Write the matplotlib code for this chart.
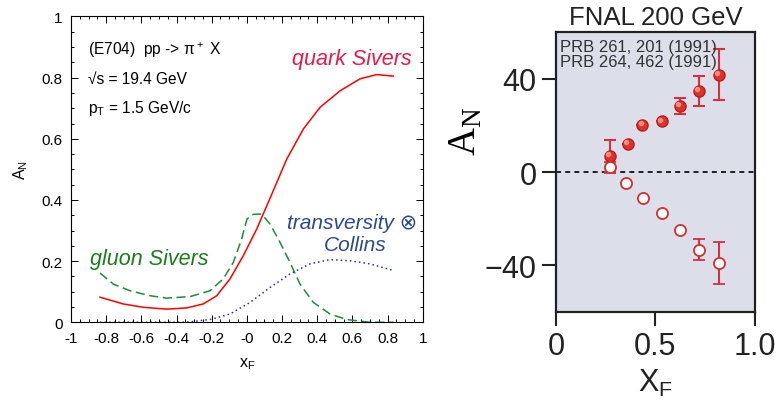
import numpy as np
import matplotlib
matplotlib.use("Agg")
import matplotlib.pyplot as plt
from matplotlib.ticker import MultipleLocator
from matplotlib.transforms import ScaledTranslation

plt.rcParams['font.family'] = ['Liberation Sans', 'DejaVu Sans']

# left panel: model curves (x_F, A_N)
quark_x = [-0.835, -0.703, -0.589, -0.456, -0.342, -0.248, -0.171, -0.096, -0.02,
           0.056, 0.132, 0.227, 0.321, 0.416, 0.53, 0.643, 0.738, 0.833]
quark_y = [0.082, 0.060, 0.049, 0.043, 0.047, 0.060, 0.087, 0.142, 0.218,
           0.305, 0.406, 0.534, 0.632, 0.703, 0.757, 0.796, 0.810, 0.805]

gluon_x = [-0.835, -0.759, -0.664, -0.551, -0.456, -0.323, -0.21, -0.134, -0.077, -0.03,
           0.001, 0.037, 0.084, 0.132, 0.188, 0.245, 0.302, 0.378, 0.473, 0.568, 0.70, 0.833]
gluon_y = [0.161, 0.125, 0.103, 0.087, 0.079, 0.084, 0.103, 0.142, 0.196, 0.272,
           0.338, 0.353, 0.354, 0.321, 0.262, 0.196, 0.125, 0.065, 0.027, 0.009, 0.0, 0.0]

trans_x = [-0.835, -0.5, -0.35, -0.3, -0.2, -0.096, 0.018, 0.132, 0.245, 0.359,
           0.473, 0.587, 0.70, 0.824]
trans_y = [0.0, 0.0, 0.0, 0.003, 0.010, 0.027, 0.065, 0.114, 0.158, 0.191,
           0.205, 0.201, 0.191, 0.171]

# right panel: FNAL E704 data (x_F, A_N in %)
pip_x = [0.27, 0.36, 0.434, 0.531, 0.624, 0.718, 0.82]
pip_y = [6.8, 12.2, 20.2, 21.7, 28.4, 34.8, 41.7]
pip_err = [7.0, 0, 0, 0, 3.5, 6.5, 11.0]

pim_x = [0.27, 0.35, 0.436, 0.535, 0.624, 0.72, 0.82]
pim_y = [2.0, -4.9, -11.3, -17.5, -24.9, -33.4, -38.8]
pim_err = [2.5, 0, 0, 0, 0, 4.5, 9.0]

fig = plt.figure(figsize=(7.8, 4.02), dpi=100)

# Left panel ###########################################################
ax = fig.add_axes([0.091, 0.1958, 0.451, 0.7607])
ax.plot(quark_x, quark_y, color='#ff0000', lw=1.1)
ax.plot(gluon_x, gluon_y, color='#1e8c3a', lw=1.1, dashes=(6, 3))
ax.plot(trans_x, trans_y, color='#2a2aa8', lw=1.1, dashes=(1, 2))
ax.set_xlim(-1, 1)
ax.set_ylim(0, 1)
xt = np.arange(-1, 1.01, 0.2)
ax.set_xticks(xt)
ax.set_xticklabels(['%g' % round(v, 1) for v in xt])
yt = np.arange(0, 1.01, 0.2)
ax.set_yticks(yt)
ax.set_yticklabels(['%g' % round(v, 1) for v in yt])
ax.xaxis.set_minor_locator(MultipleLocator(0.05))
ax.yaxis.set_minor_locator(MultipleLocator(0.05))
ax.tick_params(which='both', direction='in', top=True, right=True, labelsize=11, width=0.7)
ax.tick_params(which='major', length=5, pad=6)
ax.tick_params(which='minor', length=2.5)
for s in ax.spines.values():
    s.set_linewidth(0.8)
ax.set_xlabel('x$_\\mathregular{F}$', fontsize=11.5, labelpad=8)
ax.set_ylabel('A$_\\mathregular{N}$', fontsize=11.5, labelpad=8)

ax.text(-0.903, 0.894, '(E704)  pp -> $\\mathregular{\\pi^+}$ X', fontsize=11.2, va='center')
ax.text(-0.903, 0.796, '\u221as = 19.4 GeV', fontsize=11.2, va='center')
ax.text(-0.903, 0.704, 'p$_\\mathregular{T}$ = 1.5 GeV/c', fontsize=11.2, va='center')
ax.text(0.938, 0.861, 'quark Sivers', color='#e31c4b', fontsize=15.5, style='italic',
        ha='right', va='center')
ax.text(-0.892, 0.207, 'gluon Sivers', color='#1a7d1a', fontsize=15.5, style='italic',
        ha='left', va='center')
ax.text(0.966, 0.327, 'transversity \u2297', color='#2b4a8c', fontsize=15, style='italic',
        ha='right', va='center')
ax.text(0.616, 0.254, 'Collins', color='#2b4a8c', fontsize=15, style='italic',
        ha='center', va='center')

# Right panel ##########################################################
bx = fig.add_axes([0.7128, 0.2214, 0.255, 0.6965])
bx.set_facecolor('#dcdfea')
bx.axhline(0, color='black', lw=1.2, dashes=(3, 2.5), zorder=1)
bx.errorbar(pip_x, pip_y, yerr=pip_err, fmt='o', ms=8, mfc='#e0302a', mec='#b81c1c',
            ecolor='#d43040', elinewidth=1.5, capsize=4, capthick=1.5, zorder=3)
# small highlight to give the filled markers their glossy look
bx.plot(pip_x, pip_y, 'o', ms=3, color='#ff9a8a', alpha=0.8, zorder=4,
        transform=bx.transData + ScaledTranslation(-1.2 / 72, 1.2 / 72, fig.dpi_scale_trans))
bx.errorbar(pim_x, pim_y, yerr=pim_err, fmt='o', ms=8, mfc='white', mec='#d03030', mew=1.3,
            ecolor='#d43040', elinewidth=1.5, capsize=4, capthick=1.5, zorder=3)
bx.set_xlim(0, 1.0)
bx.set_ylim(-60, 60)
bx.set_xticks([0, 0.5, 1.0])
bx.set_xticklabels(['0', '0.5', '1.0'])
bx.set_yticks([-40, 0, 40])
bx.set_yticklabels(['\u221240', '0', '40'])
bx.tick_params(direction='out', length=10, width=1.5, labelsize=22, pad=4, colors='#222222')
for s in bx.spines.values():
    s.set_linewidth(1.6)
    s.set_color('#222222')
bx.set_title('FNAL 200 GeV', fontsize=18.5, color='#222222', pad=6)
bx.text(0.02, 0.975, 'PRB 261, 201 (1991)\nPRB 264, 462 (1991)', transform=bx.transAxes,
        fontsize=12, color='#333333', va='top', ha='left', linespacing=1.0)
bx.set_ylabel('A$_\\mathregular{N}$', fontsize=28, family='Liberation Serif')
bx.yaxis.set_label_coords(-0.36, 0.65)
bx.set_xlabel('X$_\\mathregular{F}$', fontsize=22, color='#222222', labelpad=4)

fig.savefig('out.png', dpi=100)
